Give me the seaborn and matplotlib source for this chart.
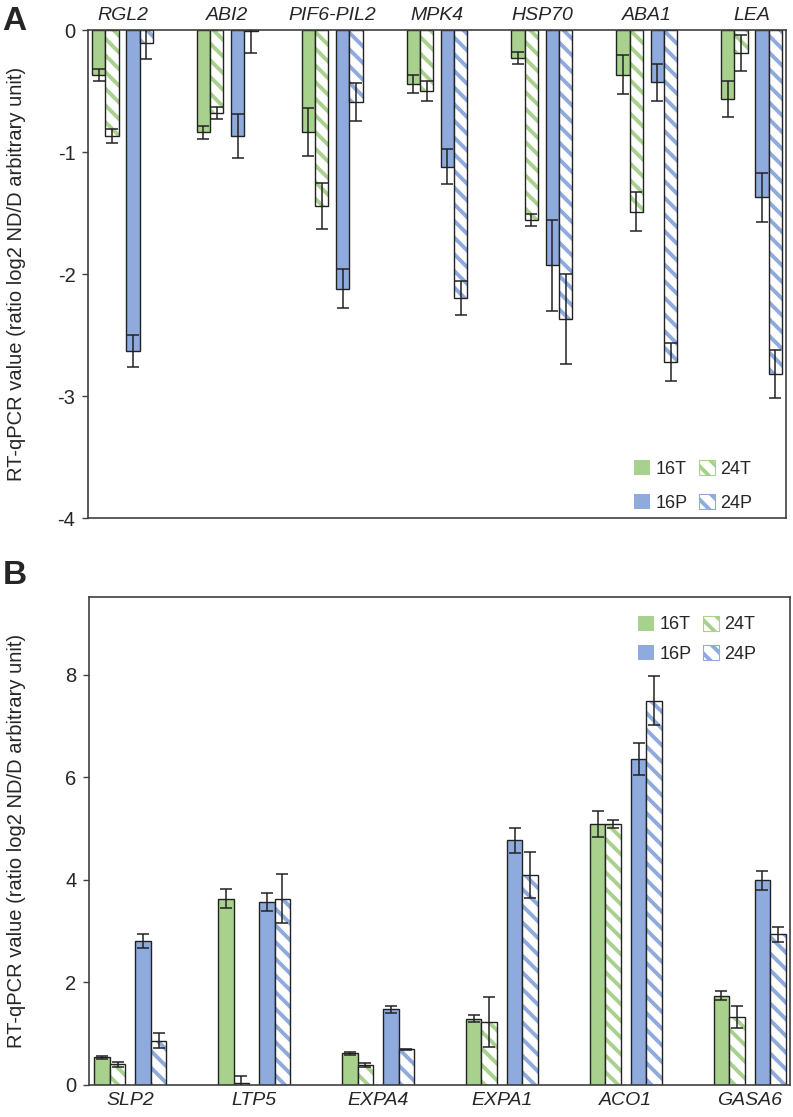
import matplotlib
matplotlib.use("Agg")
import matplotlib.pyplot as plt
from matplotlib.patches import Patch
import numpy as np
import pandas as pd
import seaborn as sns

# panel A: genes down-regulated (log2 ND/D)
genes_a = ["RGL2", "ABI2", "PIF6-PIL2", "MPK4", "HSP70", "ABA1", "LEA"]
a_16t = [-0.37, -0.84, -0.835, -0.44, -0.23, -0.365, -0.565]
a_16t_err = [0.05, 0.05, 0.195, 0.075, 0.05, 0.16, 0.145]
a_24t = [-0.87, -0.68, -1.44, -0.50, -1.555, -1.49, -0.19]
a_24t_err = [0.06, 0.05, 0.19, 0.08, 0.05, 0.16, 0.145]
a_16p = [-2.63, -0.87, -2.12, -1.12, -1.93, -0.43, -1.37]
a_16p_err = [0.13, 0.18, 0.16, 0.145, 0.37, 0.155, 0.20]
a_24p = [-0.11, -0.01, -0.59, -2.20, -2.37, -2.72, -2.82]
a_24p_err = [0.13, 0.18, 0.155, 0.14, 0.37, 0.155, 0.20]

# panel B: genes up-regulated
genes_b = ["SLP2", "LTP5", "EXPA4", "EXPA1", "ACO1", "GASA6"]
b_16t = [0.54, 3.635, 0.62, 1.29, 5.09, 1.74]
b_16t_err = [0.03, 0.18, 0.03, 0.07, 0.25, 0.09]
b_24t = [0.40, 0.04, 0.385, 1.235, 5.09, 1.33]
b_24t_err = [0.05, 0.14, 0.04, 0.49, 0.08, 0.21]
b_16p = [2.81, 3.565, 1.477, 4.77, 6.36, 3.99]
b_16p_err = [0.14, 0.18, 0.065, 0.24, 0.32, 0.19]
b_24p = [0.865, 3.635, 0.70, 4.10, 7.50, 2.94]
b_24p_err = [0.15, 0.48, 0.01, 0.45, 0.48, 0.15]

series = ["16T", "24T", "16P", "24P"]

GREEN = "#a9d18e"
BLUE = "#8faadc"
EDGE = "#222222"
SPINE = "#404040"
series_color = {"16T": GREEN, "24T": GREEN, "16P": BLUE, "24P": BLUE}
series_hatched = {"16T": False, "24T": True, "16P": False, "24P": True}
HATCH = "\\\\"

sns.set_style("ticks")
plt.rcParams["font.family"] = ["Liberation Sans", "DejaVu Sans"]
plt.rcParams["axes.unicode_minus"] = False
plt.rcParams["hatch.linewidth"] = 2.8


def bar_offsets(width, gap):
    # 16T and 24T touching, small gap, then 16P and 24P touching
    half = 2 * width + gap / 2
    return [-half + width / 2, -half + 1.5 * width,
            half - 1.5 * width, half - width / 2]


def draw_panel(ax, genes, values, errors, width, gap):
    offs = bar_offsets(width, gap)
    idx = np.arange(len(genes))
    for name, off, vals, errs in zip(series, offs, values, errors):
        df = pd.DataFrame({"pos": idx + off, "value": vals})
        if series_hatched[name]:
            sns.barplot(data=df, x="pos", y="value", native_scale=True,
                        orient="x", width=width, errorbar=None,
                        color="white", ax=ax)
            for bar in ax.containers[-1]:
                bar.set_facecolor("white")
                bar.set_edgecolor(series_color[name])
                bar.set_hatch(HATCH)
                bar.set_linewidth(0)
        else:
            sns.barplot(data=df, x="pos", y="value", native_scale=True,
                        orient="x", width=width, errorbar=None,
                        color=series_color[name], saturation=1, ax=ax)
            for bar in ax.containers[-1]:
                bar.set_facecolor(series_color[name])
                bar.set_linewidth(0)
        # black outline on top
        sns.barplot(data=df, x="pos", y="value", native_scale=True,
                    orient="x", width=width, errorbar=None, fill=False,
                    color=EDGE, linewidth=1.0, ax=ax)
        for bar in ax.containers[-1]:
            bar.set_facecolor("none")
            bar.set_edgecolor(EDGE)
            bar.set_linewidth(1.0)
        ax.errorbar(idx + off, vals, yerr=errs, fmt="none", ecolor=EDGE,
                    elinewidth=1.1, capsize=4.3, capthick=1.1, zorder=5)

    half = 2 * width + gap / 2
    ax.set_xticks(idx)
    ax.set_xticklabels(genes, fontstyle="italic", fontsize=14)
    ax.tick_params(axis="x", length=0)
    ax.tick_params(axis="y", length=4, width=1.0, color=SPINE,
                   labelsize=14.5, pad=5)
    ax.set_xlabel("")
    ax.set_ylabel("RT-qPCR value (ratio log2 ND/D arbitrary unit)",
                  fontsize=14.5)
    for sp in ax.spines.values():
        sp.set_visible(True)
        sp.set_color(SPINE)
        sp.set_linewidth(1.2)
    return half


def legend_handles():
    hs = []
    for name in ["16T", "16P", "24T", "24P"]:
        if series_hatched[name]:
            hs.append(Patch(facecolor="white", edgecolor=series_color[name],
                            hatch=HATCH, linewidth=0.8, label=name))
        else:
            hs.append(Patch(facecolor=series_color[name], edgecolor="none",
                            label=name))
    return hs


fig = plt.figure(figsize=(7.93, 11.17), dpi=100)

# ---- panel A
ax_a = fig.add_axes([88 / 793, 1 - 518 / 1117, 698 / 793, 488 / 1117])
half_a = draw_panel(ax_a, genes_a, [a_16t, a_24t, a_16p, a_24p],
                    [a_16t_err, a_24t_err, a_16p_err, a_24p_err],
                    width=0.127, gap=0.073)
ax_a.set_xlim(-half_a - 0.038, len(genes_a) - 1 + half_a + 0.038)
ax_a.set_ylim(-4, 0)
ax_a.set_yticks([0, -1, -2, -3, -4])
ax_a.set_yticklabels(["0", "-1", "-2", "-3", "-4"])
ax_a.xaxis.tick_top()
ax_a.tick_params(axis="x", pad=4)
ax_a.yaxis.set_label_coords(-0.089, 0.5)
ax_a.legend(handles=legend_handles(), ncol=2, loc="lower right",
            bbox_to_anchor=(0.975, -0.02), frameon=False, fontsize=13,
            handlelength=0.9, handleheight=0.9, handletextpad=0.3,
            columnspacing=0.6, labelspacing=0.9)
fig.text(0.003, 0.995, "A", fontsize=24, fontweight="bold", va="top")

# ---- panel B
ax_b = fig.add_axes([89 / 793, 1 - 1085 / 1117, 701 / 793, 488 / 1117])
half_b = draw_panel(ax_b, genes_b, [b_16t, b_24t, b_16p, b_24p],
                    [b_16t_err, b_24t_err, b_16p_err, b_24p_err],
                    width=0.125, gap=0.081)
ax_b.set_xlim(-half_b - 0.043, len(genes_b) - 1 + half_b + 0.035)
ax_b.set_ylim(0, 9.52)
ax_b.set_yticks([0, 2, 4, 6, 8])
ax_b.tick_params(axis="x", pad=5)
ax_b.yaxis.set_label_coords(-0.09, 0.5)
ax_b.legend(handles=legend_handles(), ncol=2, loc="upper right",
            bbox_to_anchor=(0.975, 0.995), frameon=False, fontsize=13,
            handlelength=0.9, handleheight=0.9, handletextpad=0.3,
            columnspacing=0.6, labelspacing=0.65)
fig.text(0.003, 1 - 540 / 1117 - 0.018, "B", fontsize=24,
         fontweight="bold", va="top")

fig.savefig("out.png", dpi=100)
